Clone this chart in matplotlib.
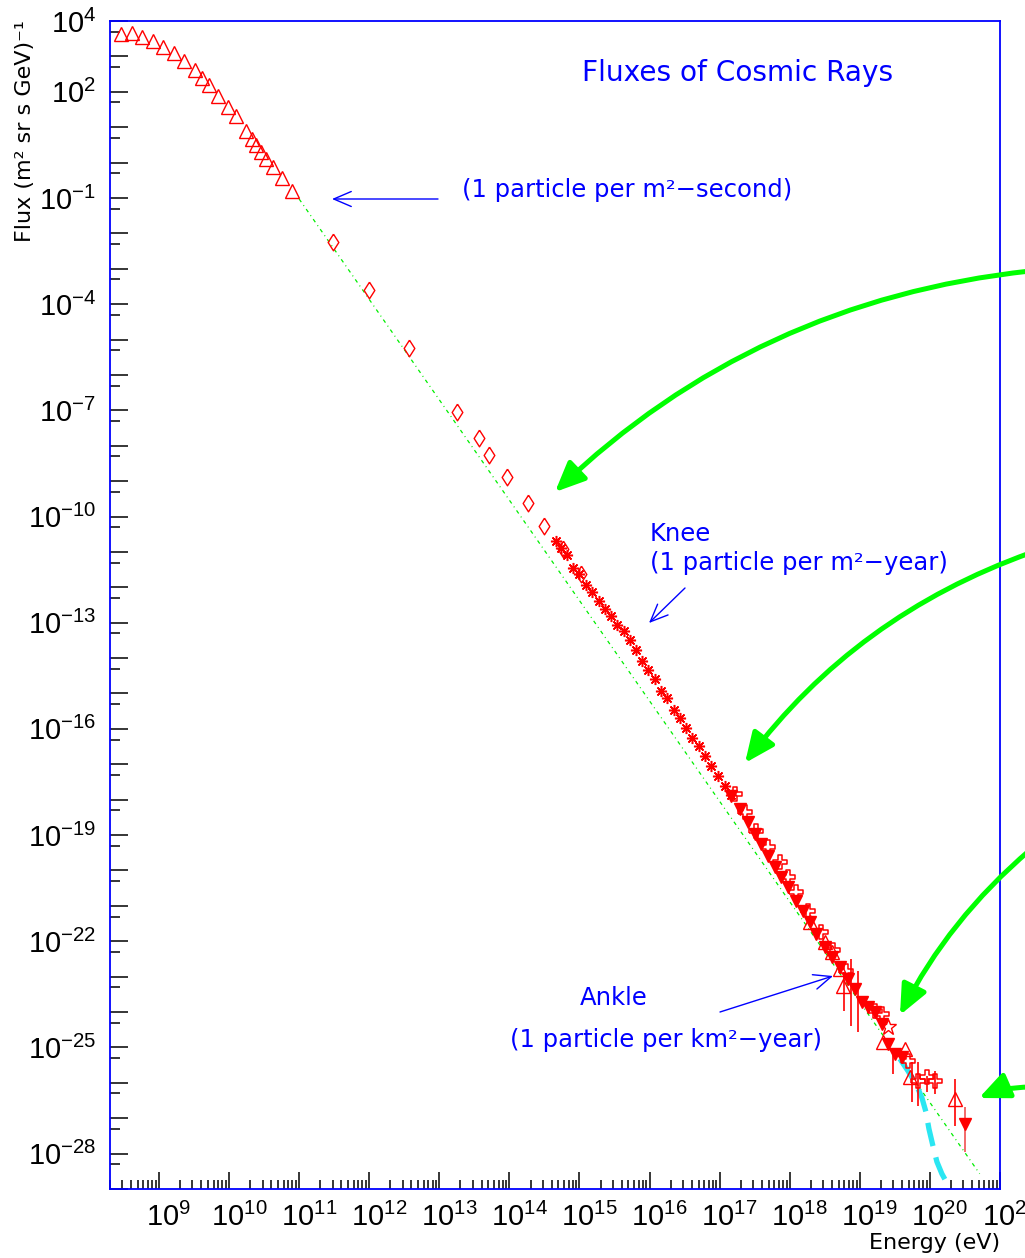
import matplotlib
matplotlib.use("Agg")
import matplotlib.pyplot as plt
import numpy as np
from matplotlib.patches import FancyArrowPatch
from matplotlib.ticker import FixedLocator, NullFormatter
from matplotlib.transforms import ScaledTranslation

plt.rcParams["font.family"] = ["DejaVu Sans"]
plt.rcParams["mathtext.fontset"] = "custom"
plt.rcParams["mathtext.rm"] = "Liberation Sans"
plt.rcParams["mathtext.default"] = "rm"

# ---- data (log10 of energy in eV, log10 of flux) ----
tri_logE = [8.453, 8.610, 8.761, 8.914, 9.061, 9.210, 9.361, 9.514, 9.610, 9.714, 9.847,
            9.981, 10.104, 10.239, 10.333, 10.390, 10.461, 10.533, 10.629, 10.753, 10.904]
tri_logF = [3.633, 3.653, 3.556, 3.443, 3.274, 3.096, 2.862, 2.616, 2.398, 2.192, 1.890,
            1.579, 1.325, 0.901, 0.667, 0.497, 0.308, 0.102, -0.133, -0.435, -0.811]

dia_logE = [11.486, 11.990, 12.571, 13.253, 13.561, 13.714, 13.967, 14.261, 14.490, 14.761, 15.024]
dia_logF = [-2.234, -3.590, -5.246, -7.054, -7.780, -8.252, -8.890, -9.627, -10.266, -10.915, -11.621]

ast_logE = [14.667, 14.739, 14.824, 14.904, 15.000, 15.086, 15.181, 15.276, 15.367, 15.453,
            15.539, 15.633, 15.724, 15.807, 15.893, 15.979, 16.071, 16.157, 16.253, 16.343,
            16.429, 16.524, 16.610, 16.704, 16.796, 16.881, 16.976, 17.071, 17.167]
ast_logF = [-10.698, -10.895, -11.076, -11.452, -11.621, -11.932, -12.138, -12.384, -12.610, -12.816,
            -13.054, -13.240, -13.486, -13.777, -14.079, -14.328, -14.588, -14.918, -15.124, -15.463,
            -15.698, -15.972, -16.246, -16.489, -16.754, -17.037, -17.319, -17.602, -17.864]

dn_logE = [17.167, 17.286, 17.404, 17.500, 17.596, 17.690, 17.786, 17.881, 17.976, 18.096,
           18.190, 18.286, 18.381, 18.500, 18.596, 18.714, 18.833, 18.929, 19.024, 19.114,
           19.214, 19.310, 19.404, 19.500, 19.596]
dn_logF = [-17.884, -18.260, -18.636, -18.966, -19.249, -19.579, -19.907, -20.189, -20.472, -20.850,
           -21.133, -21.460, -21.791, -22.167, -22.449, -22.732, -23.062, -23.345, -23.712, -23.853,
           -23.994, -24.333, -24.898, -25.181, -25.274]

crs_logE = [17.214, 17.357, 17.524, 17.690, 17.857, 17.976, 18.096, 18.261, 18.453, 18.620,
            18.800, 19.214, 19.310, 19.690, 19.833, 19.953, 20.071]
crs_logF = [-17.836, -18.345, -18.873, -19.342, -19.766, -20.189, -20.613, -21.133, -21.743, -22.250,
            -22.850, -23.957, -24.051, -25.370, -25.935, -25.839, -25.935]

hitri_logE = [18.286, 18.500, 18.596, 18.714, 18.761, 19.333, 19.643, 19.714, 20.357]
hitri_logF = [-21.452, -22.017, -22.299, -22.780, -23.251, -24.842, -25.040, -25.831, -26.452]

star_logE = [19.404]
star_logF = [-24.427]

err_logE = [18.771, 18.881, 18.976, 19.471, 19.739, 19.833, 19.953, 20.071, 20.357]
err_hi = [-22.864, -22.497, -22.836, -25.124, -25.407, -25.407, -25.802, -25.661, -25.887]
err_lo = [-23.966, -24.390, -24.559, -25.746, -26.537, -26.650, -26.254, -26.311, -27.215]

ul_logE = [20.5]
ul_logF = [-27.158]
ul_hi = [-26.678]
ul_lo = [-27.949]

# E^-2.8 guide line and GZK-like cutoff curve
guide_logE = [11.0, 20.71]
guide_logF = [-1.03, -28.57]
gzk_logE = [19.571, 19.686, 19.800, 19.886, 19.943, 19.986, 20.043, 20.100, 20.171, 20.257]
gzk_logF = [-25.322, -25.661, -26.028, -26.424, -26.819, -27.299, -27.780, -28.232, -28.571, -28.881]

y_label_exps = [4, 2, -1, -4, -7, -10, -13, -16, -19, -22, -25, -28]
x_label_exps = list(range(9, 22))


def p10(v):
    return 10.0 ** np.asarray(v, dtype=float)


W, H = 1025, 1258
fig = plt.figure(figsize=(W / 100, H / 100), dpi=100)
ax = fig.add_axes([110 / W, 1 - 1189 / H, 890 / W, 1168 / H])
ax.set_xscale("log")
ax.set_yscale("log")
ax.set_xlim(2e8, 1e21)
ax.set_ylim(1e-29, 1e4)


def P(x, y):
    return (x / W, 1 - y / H)


red = "#ff0000"
ax.plot(p10(guide_logE), p10(guide_logF), color="#00ee00", lw=0.9,
        linestyle=(0, (3, 3, 0.8, 3)), zorder=1)
ax.plot(p10(gzk_logE), p10(gzk_logF), color="#2ae6f2", lw=3.8,
        linestyle=(0, (4.5, 2.2)), zorder=2)

ax.plot(p10(tri_logE), p10(tri_logF), ls="none", marker="^", ms=9.5, mfc="none",
        mec=red, mew=1.0, zorder=3)
diamond = [(0, 1), (0.64, 0), (0, -1), (-0.64, 0), (0, 1)]
ax.plot(p10(dia_logE), p10(dia_logF), ls="none", marker=diamond, ms=12, mfc="none",
        mec=red, mew=1.0, zorder=3)
ax.plot(p10(ast_logE), p10(ast_logF), ls="none", marker=(8, 2, 0), ms=8,
        mec=red, mew=1.1, zorder=3)
ax.plot(p10(ast_logE), p10(ast_logF), ls="none", marker="o", ms=2.2,
        color=red, zorder=3)

ax.vlines(p10(err_logE), p10(err_lo), p10(err_hi), color=red, lw=1.2, zorder=3)
ax.vlines(p10(ul_logE), p10(ul_lo), p10(ul_hi), color="#f05050", lw=1.2, zorder=3)

cross = [(-1, -0.33), (-0.33, -0.33), (-0.33, -1), (0.33, -1), (0.33, -0.33), (1, -0.33),
         (1, 0.33), (0.33, 0.33), (0.33, 1), (-0.33, 1), (-0.33, 0.33), (-1, 0.33), (-1, -0.33)]
ax.plot(p10(crs_logE), p10(crs_logF), ls="none", marker=cross, ms=10, mfc="none",
        mec=red, mew=1.1, zorder=4)
ax.plot(p10(dn_logE), p10(dn_logF), ls="none", marker="v", ms=8.5, color=red, zorder=4)
ax.plot(p10(hitri_logE), p10(hitri_logF), ls="none", marker="^", ms=10, mfc="none",
        mec=red, mew=1.0, zorder=4)
ax.plot(p10(star_logE), p10(star_logF), ls="none", marker="*", ms=12, mfc="none",
        mec=red, mew=1.0, zorder=4)
ax.plot(p10(ul_logE), p10(ul_logF), ls="none", marker="v", ms=8.5, color=red, zorder=4)

# ---- axes frame and ticks ----
for s in ax.spines.values():
    s.set_color("blue")
    s.set_linewidth(1.3)

ax.set_xticks([10.0 ** e for e in x_label_exps], [r"$10^{%d}$" % e for e in x_label_exps])
ax.xaxis.set_minor_locator(FixedLocator([m * 10.0 ** e for e in range(8, 21) for m in range(2, 10)]))
ax.xaxis.set_minor_formatter(NullFormatter())

ydec = list(range(-29, 5))
ax.set_yticks([10.0 ** e for e in ydec],
              [r"$10^{%d}$" % e if e in y_label_exps else "" for e in ydec])
ax.yaxis.set_minor_locator(FixedLocator([5 * 10.0 ** e for e in range(-29, 4)]))
ax.yaxis.set_minor_formatter(NullFormatter())

ax.tick_params(which="both", direction="in", top=False, right=False, color="black",
               width=1.1, labelsize=21)
ax.tick_params(axis="x", which="major", length=12, pad=10)
ax.tick_params(axis="x", which="minor", length=6.5)
ax.tick_params(axis="y", which="major", length=13, pad=10)
ax.tick_params(axis="y", which="minor", length=7)

shift = ScaledTranslation(7 / 72, 0, fig.dpi_scale_trans)
for lab in ax.get_xticklabels():
    lab.set_transform(lab.get_transform() + shift)

# ---- labels and annotations ----
blue = "#0000ff"
fig.text(*P(25, 20), "Flux (m² sr s GeV)⁻¹", rotation=90, ha="center", va="top",
         fontsize=16)
fig.text(*P(1000, 1243), "Energy (eV)", ha="right", va="center", fontsize=16)
fig.text(*P(738, 73), "Fluxes of Cosmic Rays", ha="center", va="center",
         fontsize=20.2, color=blue)

fig.text(*P(462, 190), "(1 particle per m²−second)", ha="left", va="center",
         fontsize=17.5, color=blue)
fig.text(*P(650, 534), "Knee", ha="left", va="center", fontsize=17.5, color=blue)
fig.text(*P(650, 563), "(1 particle per m²−year)", ha="left", va="center",
         fontsize=17.5, color=blue)
fig.text(*P(580, 998), "Ankle", ha="left", va="center", fontsize=17.5, color=blue)
fig.text(*P(510, 1040), "(1 particle per km²−year)", ha="left", va="center",
         fontsize=17.5, color=blue)

for tail, head in [((438, 199), (332, 199)), ((685, 588), (649, 623)),
                   ((720, 1012), (833, 976))]:
    ax.annotate("", xy=P(*head), xytext=P(*tail), xycoords="figure fraction",
                textcoords="figure fraction",
                arrowprops=dict(arrowstyle="->,head_length=0.7,head_width=0.3",
                                color=blue, lw=1.0, mutation_scale=18,
                                shrinkA=0, shrinkB=0))

for tail, head, rad in [((1030, 271), (555, 492), 0.17), ((1030, 553), (745, 763), 0.15),
                        ((1030, 850), (900, 1015), 0.1), ((1030, 1087), (979, 1098), 0.1)]:
    arr = FancyArrowPatch(P(*tail), P(*head), transform=fig.transFigure,
                          arrowstyle="-|>,head_length=0.95,head_width=0.42",
                          mutation_scale=19, connectionstyle="arc3,rad=%s" % rad,
                          color="#00ff00", lw=3.6, shrinkA=0, shrinkB=0)
    fig.add_artist(arr)

fig.savefig("out.png", dpi=100)
